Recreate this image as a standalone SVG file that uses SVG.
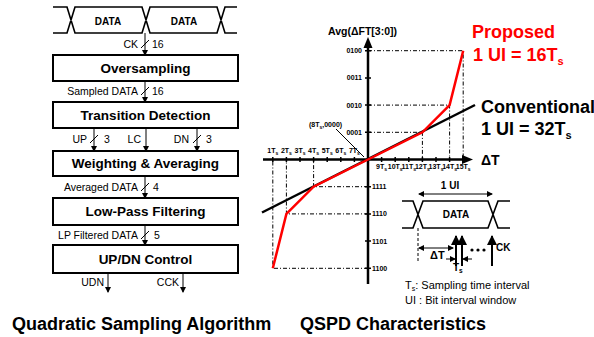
<svg xmlns="http://www.w3.org/2000/svg" width="594" height="337" viewBox="0 0 594 337">
<style>
text{font-family:"Liberation Sans",Arial,sans-serif;fill:#000}
.box{fill:#fff;stroke:#000;stroke-width:2}
.bt{font-size:13.5px;font-weight:bold;text-anchor:middle}
.lb{font-size:10.5px}
.ln{stroke:#000;stroke-width:1;fill:none}
.wave{stroke:#000;stroke-width:1.6;fill:none}
.tk{font-size:7px;font-weight:bold}
.dd{stroke:#000;stroke-width:1;fill:none;stroke-dasharray:4,2,1,2}
.big{font-size:18px;font-weight:bold}
</style>
<defs>
<marker id="ah" markerWidth="6" markerHeight="6" refX="5" refY="3" orient="auto" markerUnits="userSpaceOnUse"><path d="M0,0 L6,3 L0,6 Z" fill="#000"/></marker>
<marker id="ahb" markerWidth="10" markerHeight="10" refX="9" refY="5" orient="auto" markerUnits="userSpaceOnUse"><path d="M0,0 L10,5 L0,10 Z" fill="#000"/></marker>
<marker id="ahs" markerWidth="6" markerHeight="6" refX="5" refY="3" orient="auto-start-reverse" markerUnits="userSpaceOnUse"><path d="M0,0 L6,3 L0,6 Z" fill="#000"/></marker>
</defs>

<!-- Left: top waveform -->
<g id="waveform">
<path class="wave" d="M53,7 H67 L75,33 H142 L150,7 H217 L225,33 H237 M53,33 H67 L75,7 H142 L150,33 H217 L225,7 H237"/>
<text x="108" y="25" font-size="10" font-weight="bold" text-anchor="middle">DATA</text>
<text x="184" y="25" font-size="10" font-weight="bold" text-anchor="middle">DATA</text>
</g>

<g id="oversampling"><rect class="box" x="53" y="55" width="185" height="26"/><text class="bt" x="145.5" y="73">Oversampling</text></g>
<g id="transition"><rect class="box" x="53" y="102" width="185" height="26"/><text class="bt" x="145.5" y="120">Transition Detection</text></g>
<g id="weighting"><rect class="box" x="53" y="151" width="185" height="25"/><text class="bt" x="145.5" y="168">Weighting &amp; Averaging</text></g>
<g id="lowpass"><rect class="box" x="53" y="198" width="185" height="27"/><text class="bt" x="145.5" y="216">Low-Pass Filtering</text></g>
<g id="updn"><rect class="box" x="53" y="245" width="185" height="28"/><text class="bt" x="145.5" y="264">UP/DN Control</text></g>

<g id="connectors">
<line class="ln" x1="145" y1="33" x2="145" y2="55" marker-end="url(#ah)"/>
<line class="ln" x1="141" y1="48" x2="149" y2="40"/>
<text class="lb" x="138" y="48" text-anchor="end">CK</text><text class="lb" x="152" y="48">16</text>
<line class="ln" x1="145" y1="81" x2="145" y2="102" marker-end="url(#ah)"/>
<line class="ln" x1="141" y1="95" x2="149" y2="87"/>
<text class="lb" x="138" y="95" text-anchor="end">Sampled DATA</text><text class="lb" x="152" y="95">16</text>
<line class="ln" x1="94" y1="128" x2="94" y2="151" marker-end="url(#ah)"/>
<line class="ln" x1="90" y1="143" x2="98" y2="135"/>
<text class="lb" x="87" y="143" text-anchor="end">UP</text><text class="lb" x="104" y="143">3</text>
<line class="ln" x1="146" y1="128" x2="146" y2="151" marker-end="url(#ah)"/>
<text class="lb" x="141" y="143" text-anchor="end">LC</text>
<line class="ln" x1="197" y1="128" x2="197" y2="151" marker-end="url(#ah)"/>
<line class="ln" x1="193" y1="143" x2="201" y2="135"/>
<text class="lb" x="189" y="143" text-anchor="end">DN</text><text class="lb" x="206" y="143">3</text>
<line class="ln" x1="145" y1="176" x2="145" y2="198" marker-end="url(#ah)"/>
<line class="ln" x1="141" y1="191" x2="149" y2="183"/>
<text class="lb" x="138" y="191" text-anchor="end">Averaged DATA</text><text class="lb" x="153" y="191">4</text>
<line class="ln" x1="145" y1="225" x2="145" y2="245" marker-end="url(#ah)"/>
<line class="ln" x1="141" y1="239" x2="149" y2="231"/>
<text class="lb" x="138" y="239" text-anchor="end">LP Filtered DATA</text><text class="lb" x="154" y="239">5</text>
<line class="ln" x1="108" y1="273" x2="108" y2="292" marker-end="url(#ah)"/>
<text class="lb" x="104" y="286" text-anchor="end">UDN</text>
<line class="ln" x1="183" y1="273" x2="183" y2="292" marker-end="url(#ah)"/>
<text class="lb" x="179" y="286" text-anchor="end">CCK</text>
</g>

<text x="12" y="330" font-size="18" font-weight="bold">Quadratic Sampling Algorithm</text>
<text x="300" y="330" font-size="18" font-weight="bold">QSPD Characteristics</text>

<!-- Right: chart -->
<g id="chart">
<path class="dd" d="M368,50.7 H463.2 V159.5 M368,105.1 H449.6 V159.5 M368,132.3 H422.4 V159.5 M368,186.7 H313.6 V159.5 M368,213.9 H286.4 V159.5 M368,268.3 H272.8 V159.5"/>
<line x1="368" y1="284" x2="368" y2="46" stroke="#000" stroke-width="2.5"/>
<path d="M368,37 L363.5,48 L372.5,48 Z" fill="#000"/>
<line x1="263" y1="159.5" x2="464" y2="159.5" stroke="#000" stroke-width="2.5"/>
<path d="M473,159.5 L462,155 L462,164 Z" fill="#000"/>
<path stroke="#000" stroke-width="1.5" d="M365,50.7 h6 M365,77.9 h6 M365,105.1 h6 M365,132.3 h6 M365,186.7 h6 M365,213.9 h6 M365,241.1 h6 M365,268.3 h6 M272.8,157 v5 M286.4,157 v5 M300,157 v5 M313.6,157 v5 M327.2,157 v5 M340.8,157 v5 M354.4,157 v5 M381.6,157 v5 M395.2,157 v5 M408.8,157 v5 M422.4,157 v5 M436,157 v5 M449.6,157 v5 M463.2,157 v5"/>
<g class="tk" text-anchor="end">
<text x="362" y="53">0100</text><text x="362" y="80">0011</text><text x="362" y="107.5">0010</text><text x="362" y="134.5">0001</text>
</g>
<g class="tk">
<text x="372" y="189">1111</text><text x="372" y="216">1110</text><text x="372" y="243.5">1101</text><text x="372" y="270.5">1100</text>
</g>
<g class="tk" text-anchor="middle">
<text x="272.8" y="153">1T<tspan font-size="5" dy="1.5">s</tspan></text>
<text x="286.4" y="153">2T<tspan font-size="5" dy="1.5">s</tspan></text>
<text x="300" y="153">3T<tspan font-size="5" dy="1.5">s</tspan></text>
<text x="313.6" y="153">4T<tspan font-size="5" dy="1.5">s</tspan></text>
<text x="327.2" y="153">5T<tspan font-size="5" dy="1.5">s</tspan></text>
<text x="340.8" y="153">6T<tspan font-size="5" dy="1.5">s</tspan></text>
<text x="354.4" y="153">7T<tspan font-size="5" dy="1.5">s</tspan></text>
<text x="381.6" y="169">9T<tspan font-size="5" dy="1.5">s</tspan></text>
<text x="395.2" y="169">10T<tspan font-size="5" dy="1.5">s</tspan></text>
<text x="408.8" y="169">11T<tspan font-size="5" dy="1.5">s</tspan></text>
<text x="422.4" y="169">12T<tspan font-size="5" dy="1.5">s</tspan></text>
<text x="436" y="169">13T<tspan font-size="5" dy="1.5">s</tspan></text>
<text x="449.6" y="169">14T<tspan font-size="5" dy="1.5">s</tspan></text>
<text x="463.2" y="169">15T<tspan font-size="5" dy="1.5">s</tspan></text>
</g>
<text class="tk" x="309" y="127">(8T<tspan font-size="5" dy="1.5">s</tspan><tspan dy="-1.5">,0000)</tspan></text>
<line class="ln" x1="336" y1="129" x2="364" y2="157"/>
<text x="328" y="35" font-size="10.5" font-weight="bold">Avg(ΔFT[3:0])</text>
<text x="481" y="165" font-size="14" font-weight="bold">ΔT</text>
<line x1="262" y1="212.5" x2="475" y2="105" stroke="#000" stroke-width="2.5"/>
<polyline points="272.8,268.3 286.4,213.9 313.6,186.7 368,159.5 422.4,132.3 449.6,105.1 463.2,50.7" fill="none" stroke="#f00" stroke-width="2.5"/>
<text class="big" x="472" y="38" style="fill:#f00">Proposed</text>
<text class="big" x="473" y="61" style="fill:#f00">1 UI = 16T<tspan font-size="11" dy="4">s</tspan></text>
<text class="big" x="481" y="113">Conventional</text>
<text class="big" x="481" y="135">1 UI = 32T<tspan font-size="11" dy="4">s</tspan></text>
</g>

<g id="timing">
<path class="wave" d="M402,201 H413 L423,228 H488 L498,201 H510 M402,228 H413 L423,201 H488 L498,228 H510"/>
<text x="450" y="189" font-size="10" font-weight="bold" text-anchor="middle">1 UI</text>
<line class="ln" x1="419" y1="194" x2="492" y2="194" marker-start="url(#ahs)" marker-end="url(#ahs)"/>
<text x="456" y="218" font-size="10" font-weight="bold" text-anchor="middle">DATA</text>
<line x1="418" y1="228" x2="418" y2="263" stroke="#000" stroke-width="1" stroke-dasharray="3,2"/>
<line class="ln" x1="419" y1="248" x2="453" y2="248" marker-start="url(#ahs)" marker-end="url(#ahs)"/>
<text x="430" y="259" font-size="11" font-weight="bold">ΔT</text>
<line x1="456" y1="266" x2="456" y2="236" stroke="#000" stroke-width="2" marker-end="url(#ahb)"/>
<line x1="462" y1="266" x2="462" y2="236" stroke="#000" stroke-width="2" marker-end="url(#ahb)"/>
<line x1="492" y1="266" x2="492" y2="236" stroke="#000" stroke-width="2" marker-end="url(#ahb)"/>
<circle cx="472" cy="250" r="1.6"/><circle cx="478" cy="250" r="1.6"/><circle cx="484" cy="250" r="1.6"/>
<text x="496" y="251" font-size="10" font-weight="bold">CK</text>
<line class="ln" x1="446" y1="259" x2="455" y2="259" marker-end="url(#ah)"/>
<line class="ln" x1="472" y1="259" x2="463" y2="259" marker-end="url(#ah)"/>
<text x="453" y="271" font-size="10" font-weight="bold">T<tspan font-size="6.5" dy="2">s</tspan></text>
<text x="405" y="289" font-size="11">T<tspan font-size="7" dy="2">s</tspan><tspan dy="-2">: Sampling time interval</tspan></text>
<text x="405" y="304" font-size="11">UI : Bit interval window</text>
</g>
</svg>
